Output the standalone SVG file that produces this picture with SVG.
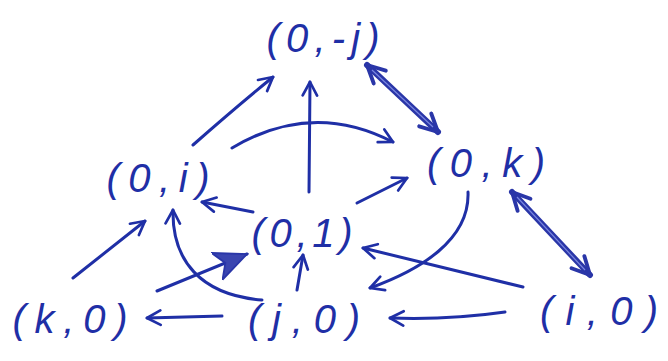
<svg xmlns="http://www.w3.org/2000/svg" width="668" height="361" viewBox="0 0 668 361">
<style>
.lbl{font-family:"Liberation Sans","DejaVu Sans",sans-serif;font-style:italic;font-size:40px;fill:#1f2fa6;text-anchor:middle}
.c{fill:none;stroke:#1f2fa6;stroke-width:3;stroke-linecap:round}
.h{fill:none;stroke:#2a36a8;stroke-width:6;stroke-linecap:round}
.hi{fill:none;stroke:#7a86e0;stroke-width:1.2}
</style>
<defs>
<marker id="ah" viewBox="0 0 20 20" refX="18" refY="10" markerWidth="18" markerHeight="18" markerUnits="userSpaceOnUse" orient="auto-start-reverse">
<path d="M3,2 L18,10 L3,18" fill="none" stroke="#1f2fa6" stroke-width="3" stroke-linecap="round" stroke-linejoin="round"/>
</marker>
<marker id="hh" viewBox="0 0 20 20" refX="18" refY="10" markerWidth="22" markerHeight="22" markerUnits="userSpaceOnUse" orient="auto-start-reverse">
<path d="M2,2 L18,10 L2,18" fill="none" stroke="#2a36a8" stroke-width="3.5" stroke-linecap="round" stroke-linejoin="round"/>
</marker>
<marker id="fh" viewBox="0 0 20 20" refX="18" refY="10" markerWidth="36" markerHeight="36" markerUnits="userSpaceOnUse" orient="auto">
<path d="M0,2 L18,10 L0,18 L5,10 Z" fill="#3a45b0" stroke="#2a36a8" stroke-width="1"/>
</marker>
</defs>
<g id="connectors">
<path class="c" d="M193,145 Q235,108 273,77" marker-end="url(#ah)"/>
<path class="c" d="M309,192 L310,82" marker-end="url(#ah)"/>
<path class="h" d="M367,65 L438,132" marker-start="url(#hh)" marker-end="url(#hh)"/>
<path class="hi" d="M372,70 L433,127"/>
<path class="c" d="M232,148 Q312,100 393,142" marker-end="url(#ah)"/>
<path class="c" d="M357,203 L407,178" marker-end="url(#ah)"/>
<path class="c" d="M253,212 L202,202" marker-end="url(#ah)"/>
<path class="h" d="M512,192 L590,275" marker-start="url(#hh)" marker-end="url(#hh)"/>
<path class="hi" d="M517,197 L585,270"/>
<path class="c" d="M468,192 C470,240 420,270 370,288" marker-end="url(#ah)"/>
<path class="c" d="M523,287 L363,248" marker-end="url(#ah)"/>
<path class="c" d="M505,312 Q450,320 390,318" marker-end="url(#ah)"/>
<path class="c" d="M222,316 L147,318" marker-end="url(#ah)"/>
<path class="c" d="M297,290 L303,255" marker-end="url(#ah)"/>
<path class="c" d="M157,291 L247,254" marker-end="url(#fh)"/>
<path class="c" d="M262,300 C200,295 172,260 173,210" marker-end="url(#ah)"/>
<path class="c" d="M73,278 L145,221" marker-end="url(#ah)"/>
</g>
<g id="n0mj"><text class="lbl" x="323" y="52" textLength="113" lengthAdjust="spacing">(0,-j)</text></g>
<g id="n0i"><text class="lbl" x="158" y="192" textLength="103" lengthAdjust="spacing">(0,i)</text></g>
<g id="n0k"><text class="lbl" x="486" y="177" textLength="118" lengthAdjust="spacing">(0,k)</text></g>
<g id="n01"><text class="lbl" x="302" y="247" textLength="101" lengthAdjust="spacing">(0,1)</text></g>
<g id="nk0"><text class="lbl" x="70" y="333" textLength="115" lengthAdjust="spacing">(k,0)</text></g>
<g id="nj0"><text class="lbl" x="304" y="333" textLength="112" lengthAdjust="spacing">(j,0)</text></g>
<g id="ni0"><text class="lbl" x="599" y="325" textLength="118" lengthAdjust="spacing">(i,0)</text></g>
</svg>
